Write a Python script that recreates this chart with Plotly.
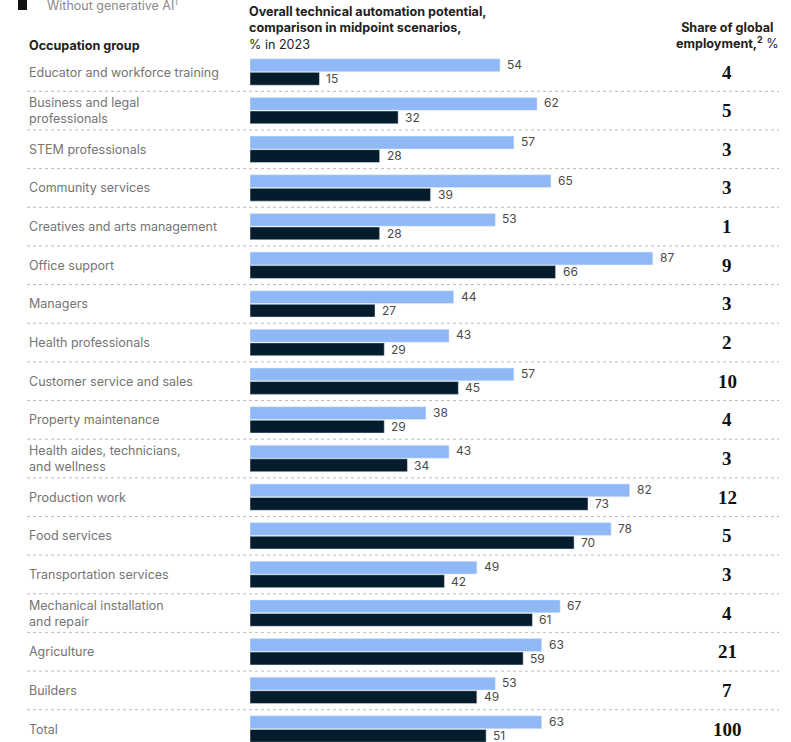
import plotly.graph_objects as go

categories = [
    "Educator and workforce training",
    "Business and legal<br>professionals",
    "STEM professionals",
    "Community services",
    "Creatives and arts management",
    "Office support",
    "Managers",
    "Health professionals",
    "Customer service and sales",
    "Property maintenance",
    "Health aides, technicians,<br>and wellness",
    "Production work",
    "Food services",
    "Transportation services",
    "Mechanical installation<br>and repair",
    "Agriculture",
    "Builders",
    "Total",
]
with_genai = [54, 62, 57, 65, 53, 87, 44, 43, 57, 38, 43, 82, 78, 49, 67, 63, 53, 63]
without_genai = [15, 32, 28, 39, 28, 66, 27, 29, 45, 29, 34, 73, 70, 42, 61, 59, 49, 51]
share_global = [4, 5, 3, 3, 1, 9, 3, 2, 10, 4, 3, 12, 5, 3, 4, 21, 7, 100]

W, H = 791, 742
LIGHT = "#8fb9f6"
DARK = "#051c2c"
row_px = 38.65
row0_px = 72.0
n = len(categories)
ypos = list(range(n))


def px_x(p):
    return p / W


def px_y(p):
    return 1 - p / H


fig = go.Figure()
fig.add_trace(go.Bar(x=with_genai, y=ypos, orientation="h", marker_color=LIGHT,
                     name="With generative AI", offsetgroup="a", showlegend=False,
                     hoverinfo="skip"))
fig.add_trace(go.Bar(x=without_genai, y=ypos, orientation="h", marker_color=DARK,
                     name="Without generative AI", offsetgroup="b", showlegend=False,
                     hoverinfo="skip"))

annotations = []
label_font = dict(family="Inter, Roboto, sans-serif", size=12.5, color="#747474")
val_font = dict(family="Inter, Roboto, sans-serif", size=12, color="#4a4a4a")
for i in range(n):
    annotations.append(dict(x=px_x(27), xref="paper", y=i, yref="y", text=categories[i],
                            showarrow=False, xanchor="left", yanchor="middle",
                            align="left", font=label_font))
    annotations.append(dict(x=with_genai[i], xref="x", y=i - 0.2, yref="y",
                            text=str(with_genai[i]), showarrow=False, xanchor="left",
                            xshift=5, yanchor="middle", font=val_font))
    annotations.append(dict(x=without_genai[i], xref="x", y=i + 0.17, yref="y",
                            text=str(without_genai[i]), showarrow=False, xanchor="left",
                            xshift=5, yanchor="middle", font=val_font))
    annotations.append(dict(x=px_x(727), xref="paper", y=i, yref="y", text=str(share_global[i]),
                            showarrow=False, xanchor="center", yanchor="middle",
                            font=dict(family="Liberation Serif, DejaVu Serif, serif",
                                      size=19, color="#111111", weight="bold")))

hdr = dict(family="Inter, Roboto, sans-serif", size=12.6, color="#222222")
annotations += [
    dict(x=px_x(45), xref="paper", y=px_y(5), yref="paper",
         text="Without generative AI<sup style='font-size:7px'>1</sup>",
         showarrow=False, xanchor="left", yanchor="middle",
         font=dict(family="Inter, Roboto, sans-serif", size=12.5, color="#8a8a8a")),
    dict(x=px_x(27), xref="paper", y=px_y(45), yref="paper", text="<b>Occupation group</b>",
         showarrow=False, xanchor="left", yanchor="middle", font=hdr),
    dict(x=px_x(247), xref="paper", y=px_y(28), yref="paper",
         text="<b>Overall technical automation potential,</b><br><b>comparison in midpoint scenarios,</b><br>% in 2023",
         showarrow=False, xanchor="left", yanchor="middle", align="left", font=hdr),
    dict(x=px_x(781), xref="paper", y=px_y(36), yref="paper",
         text="<b>Share of global</b><br><b>employment,</b><sup style='font-size:8px'><b>2</b></sup> %",
         showarrow=False, xanchor="right", yanchor="middle", align="center", font=hdr),
]

shapes = [dict(type="rect", xref="paper", yref="paper", x0=px_x(18), x1=px_x(27),
               y0=px_y(0), y1=px_y(10), fillcolor="#111111", line_width=0)]
for i in range(n - 1):
    shapes.append(dict(type="line", xref="paper", yref="y", x0=px_x(27), x1=px_x(779),
                       y0=i + 0.5, y1=i + 0.5, line=dict(color="#bcbcbc", width=1, dash="dot")))

px_per_unit = 4.63
fig.update_layout(
    width=W, height=H,
    margin=dict(l=0, r=0, t=0, b=0),
    paper_bgcolor="white", plot_bgcolor="white",
    barmode="group", bargap=0.3, bargroupgap=0.05,
    hovermode=False,
    xaxis=dict(domain=[px_x(250), 1], range=[0, (W - 250) / px_per_unit],
               visible=False, fixedrange=True),
    yaxis=dict(range=[(H - row0_px) / row_px, -row0_px / row_px],
               visible=False, fixedrange=True),
    annotations=annotations, shapes=shapes,
)
fig.write_html("out.html", config={"displayModeBar": False},
               post_script="document.body.style.margin='0';document.body.style.overflow='hidden';")
